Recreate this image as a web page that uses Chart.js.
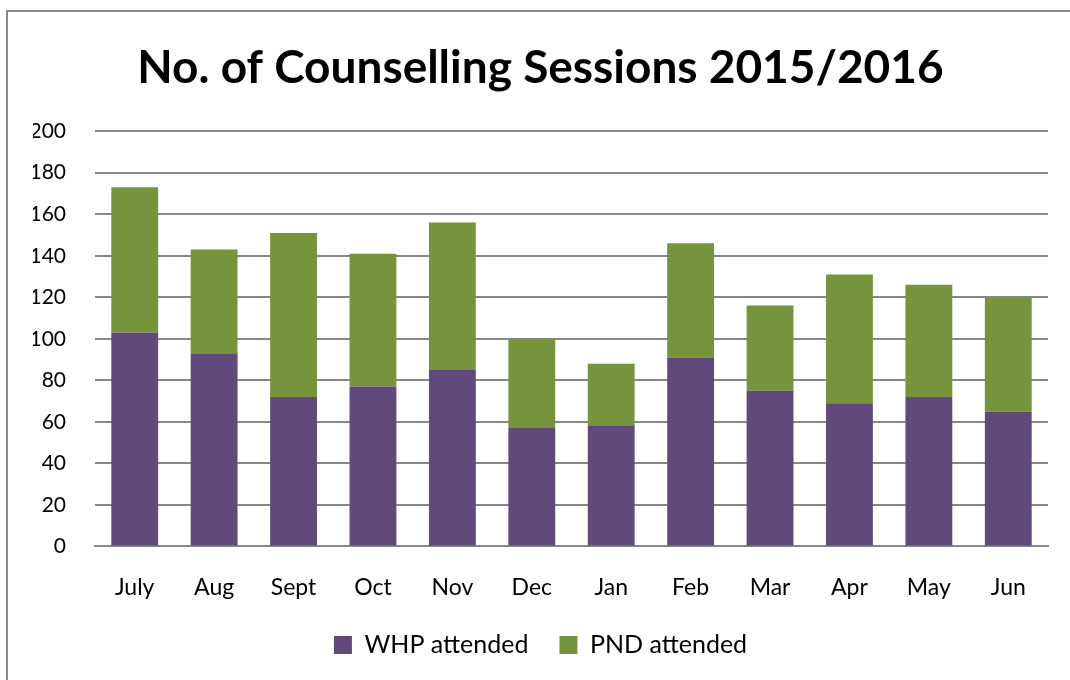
<!DOCTYPE html>
<html lang="en">
<head>
    <meta charset="UTF-8">
    <title>Counselling Sessions</title>
    <script src="https://cdn.jsdelivr.net/npm/chart.js"></script>
    <style>
        body { margin: 0; background: #fff; }
        #wrap { position: relative; width: 1070px; height: 680px; }
        #frame { position: absolute; left: 6px; top: 10px; width: 1080px; height: 700px;
                 border-left: 2px solid #8a8a8a; border-top: 2px solid #8a8a8a; }
        canvas { position: absolute; left: 0; top: 0; }
    </style>
</head>
<body>
<div id="wrap">
    <div id="frame"></div>
    <canvas id="sessionsChart" width="1070" height="680"></canvas>
</div>
<script>
    const months = ['July', 'Aug', 'Sept', 'Oct', 'Nov', 'Dec', 'Jan', 'Feb', 'Mar', 'Apr', 'May', 'Jun'];
    const whpAttended = [103, 93, 72, 77, 85, 57, 58, 91, 75, 69, 72, 65];
    const pndAttended = [70, 50, 79, 64, 71, 43, 30, 55, 41, 62, 54, 55];

    const ctx = document.getElementById('sessionsChart').getContext('2d');
    const sessionsChart = new Chart(ctx, {
        type: 'bar',
        data: {
            labels: months,
            datasets: [
                {
                    label: 'WHP attended',
                    data: whpAttended,
                    backgroundColor: '#604a7b',
                    borderWidth: 0
                },
                {
                    label: 'PND attended',
                    data: pndAttended,
                    backgroundColor: '#77933c',
                    borderWidth: 0
                }
            ]
        },
        options: {
            responsive: false,
            animation: false,
            layout: { padding: { left: 33, right: 22, top: 20, bottom: 12.5 } },
            datasets: { bar: { categoryPercentage: 1, barPercentage: 0.59 } },
            plugins: {
                title: {
                    display: true,
                    text: 'No. of Counselling Sessions 2015/2016',
                    color: '#000',
                    font: { family: 'Lato', size: 46, weight: 'bold' },
                    padding: { top: 21, bottom: 35 }
                },
                legend: {
                    position: 'bottom',
                    labels: {
                        color: '#000',
                        font: { family: 'Lato', size: 25 },
                        boxWidth: 18,
                        boxHeight: 18,
                        padding: 31
                    }
                },
                tooltip: { enabled: false }
            },
            scales: {
                x: {
                    stacked: true,
                    grid: { display: false },
                    border: { color: '#878787', width: 2 },
                    ticks: { color: '#000', font: { family: 'Lato', size: 23 }, padding: 19 },
                    // pull the legend closer, as in the original
                    afterFit: (scale) => { scale.height -= 18.5; }
                },
                y: {
                    stacked: true,
                    min: 0,
                    max: 200,
                    border: { display: false },
                    grid: { color: '#878787', lineWidth: 2, drawTicks: false },
                    ticks: { stepSize: 20, color: '#000', font: { family: 'Lato', size: 21 }, padding: 29 },
                    // fixed width so the labels sit where the original has them
                    afterFit: (scale) => { scale.width = 62; }
                }
            }
        }
    });
</script>
</body>
</html>
